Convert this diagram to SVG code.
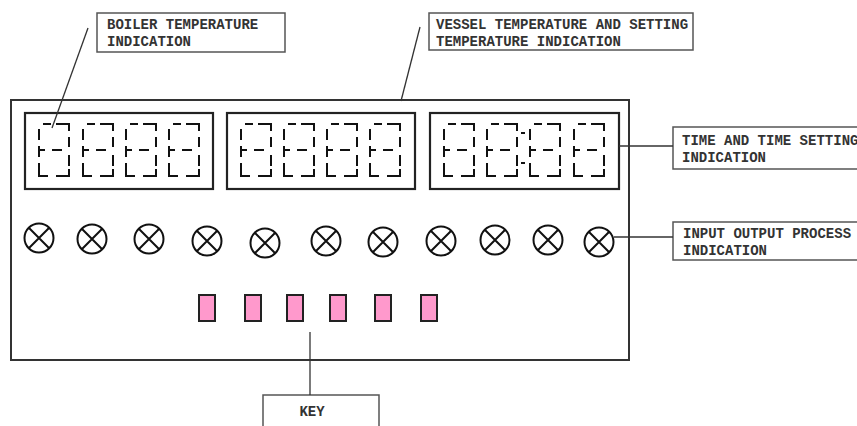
<svg xmlns="http://www.w3.org/2000/svg" xmlns:xlink="http://www.w3.org/1999/xlink" width="857" height="426" viewBox="0 0 857 426">
<style>
.frame{fill:none;stroke:#333;stroke-width:2}
.disp{fill:none;stroke:#222;stroke-width:2.2}
.lbl{fill:#fff;stroke:#555;stroke-width:1.5}
.txt{font-family:"Liberation Mono","DejaVu Sans Mono",monospace;font-size:14px;font-weight:bold;fill:#333}
.seg{fill:none;stroke:#111;stroke-width:2}
.lampc{fill:none;stroke:#111;stroke-width:2}
.key{fill:#ff99cc;stroke:#222;stroke-width:2}
.conn{fill:none;stroke:#333;stroke-width:1.3}
</style>
<defs>
<g id="digit">
<path class="seg" d="M4,0 H12 M17,0 H30 V7 M0,5 V16 M0,22 V33 M0,26 H6 M13,26 H23 M30,13 V23 M30,31 V42 M0,39 V52 H9 M17,52 H30 V45"/>
</g>
<g id="lamp">
<circle class="lampc" r="14.5"/>
<path class="lampc" d="M-10.2,-10.2 L10.2,10.2 M10.2,-10.2 L-10.2,10.2"/>
</g>
</defs>
<rect width="857" height="426" fill="#fff"/>
<g id="panel">
<rect class="frame" x="11" y="100" width="618" height="260"/>
</g>
<g id="display-boiler">
<rect class="disp" x="25" y="113" width="188" height="76"/>
<use xlink:href="#digit" x="39" y="124"/>
<use xlink:href="#digit" x="83" y="124"/>
<use xlink:href="#digit" x="126" y="124"/>
<use xlink:href="#digit" x="169" y="124"/>
</g>
<g id="display-vessel">
<rect class="disp" x="227" y="113" width="188" height="76"/>
<use xlink:href="#digit" x="241" y="124"/>
<use xlink:href="#digit" x="284" y="124"/>
<use xlink:href="#digit" x="327" y="124"/>
<use xlink:href="#digit" x="370" y="124"/>
</g>
<g id="display-time">
<rect class="disp" x="430" y="113" width="189" height="76"/>
<use xlink:href="#digit" x="444" y="124"/>
<use xlink:href="#digit" x="487" y="124"/>
<use xlink:href="#digit" x="530" y="124"/>
<use xlink:href="#digit" x="574" y="124"/>
<path class="seg" d="M521,133 H525 M521,163 H525"/>
</g>
<g id="lamps">
<use xlink:href="#lamp" x="39" y="238"/>
<use xlink:href="#lamp" x="92" y="239"/>
<use xlink:href="#lamp" x="149" y="239"/>
<use xlink:href="#lamp" x="207" y="241"/>
<use xlink:href="#lamp" x="265" y="243"/>
<use xlink:href="#lamp" x="326" y="241"/>
<use xlink:href="#lamp" x="383" y="242"/>
<use xlink:href="#lamp" x="441" y="241"/>
<use xlink:href="#lamp" x="495" y="240"/>
<use xlink:href="#lamp" x="548" y="240"/>
<use xlink:href="#lamp" x="599" y="242"/>
</g>
<g id="keys">
<rect class="key" x="199" y="295" width="16" height="26"/>
<rect class="key" x="245" y="295" width="16" height="26"/>
<rect class="key" x="287" y="295" width="16" height="26"/>
<rect class="key" x="330" y="295" width="16" height="26"/>
<rect class="key" x="375" y="295" width="16" height="26"/>
<rect class="key" x="421" y="295" width="16" height="26"/>
</g>
<g id="label-boiler">
<rect class="lbl" x="97" y="13" width="188" height="39"/>
<text class="txt" x="107" y="29">BOILER TEMPERATURE</text>
<text class="txt" x="107" y="46">INDICATION</text>
</g>
<g id="label-vessel">
<rect class="lbl" x="429" y="13" width="264" height="37"/>
<text class="txt" x="436" y="29">VESSEL TEMPERATURE AND SETTING</text>
<text class="txt" x="436" y="46">TEMPERATURE INDICATION</text>
</g>
<g id="label-time">
<rect class="lbl" x="673" y="127" width="200" height="42"/>
<text class="txt" x="682" y="145">TIME AND TIME SETTING</text>
<text class="txt" x="682" y="162">INDICATION</text>
</g>
<g id="label-io">
<rect class="lbl" x="673" y="222" width="200" height="38"/>
<text class="txt" x="683" y="238">INPUT OUTPUT PROCESS</text>
<text class="txt" x="683" y="255">INDICATION</text>
</g>
<g id="label-key">
<rect class="lbl" x="263" y="395" width="116" height="40"/>
<text class="txt" x="312" y="416" text-anchor="middle">KEY</text>
</g>
<g id="connectors">
<line class="conn" x1="88" y1="28" x2="52" y2="128"/>
<line class="conn" x1="420" y1="27" x2="401" y2="101"/>
<line class="conn" x1="619" y1="146" x2="673" y2="146"/>
<line class="conn" x1="614" y1="237" x2="673" y2="237"/>
<line class="conn" x1="310" y1="332" x2="310" y2="395"/>
</g>
</svg>
